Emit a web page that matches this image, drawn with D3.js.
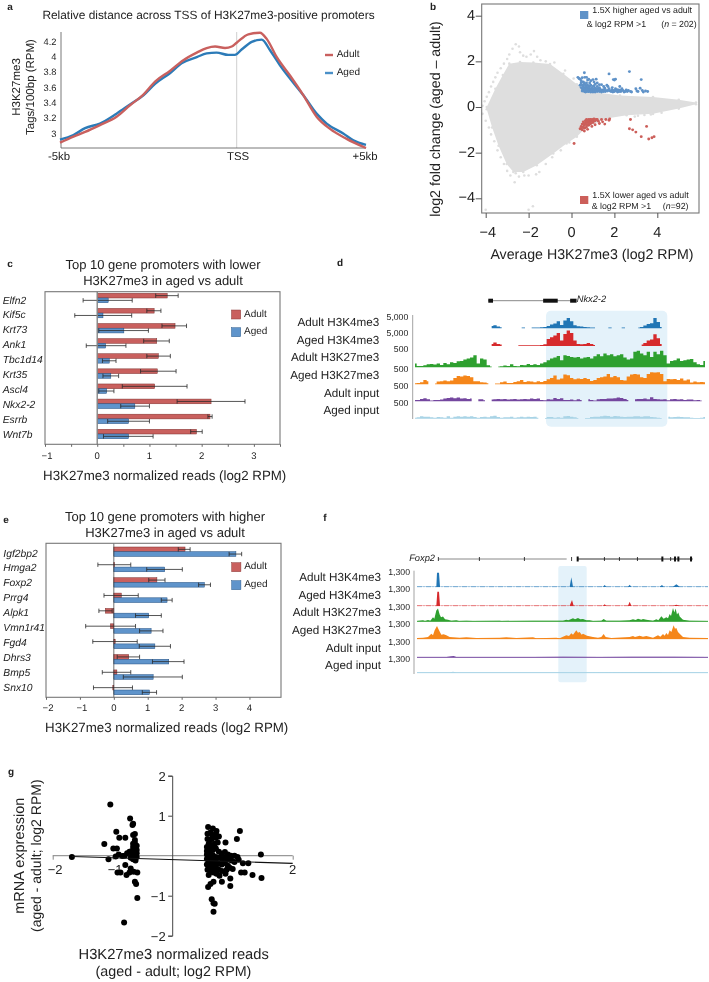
<!DOCTYPE html>
<html><head><meta charset="utf-8">
<script src="https://cdn.jsdelivr.net/npm/d3@7"></script>
<style>
html,body{margin:0;padding:0;background:#fff}
svg{display:block;font-family:"Liberation Sans",Arial,sans-serif;text-rendering:geometricPrecision;filter:blur(.4px)}
text{fill:#222}
</style></head><body>
<svg id="c" width="709" height="982"></svg>
<script>
// ---------- panel a
const aKb   =[-5,-4.62,-4.29,-3.87,-3.40,-3.02,-2.64,-2.31,-1.89,-1.51,-1.13,-0.85,-0.61,-0.33,-0.14,0,0.45,0.90,1.16,1.55,2.06,2.58,3.09,3.61,4.25,5];
const aAdult=[2.88,2.96,3.02,3.11,3.22,3.37,3.51,3.68,3.82,3.96,4.06,4.12,4.14,4.12,4.14,4.19,4.30,4.32,4.24,4.00,3.76,3.50,3.22,3.06,2.93,2.81];
const aKb2  =[-5,-4.62,-4.29,-3.87,-3.40,-3.02,-2.64,-2.31,-1.89,-1.56,-1.13,-0.85,-0.57,-0.24,-0.05,0.19,0.58,0.97,1.29,1.68,2.06,2.58,3.09,3.48,4.12,4.51,5];
const aAged =[2.92,2.98,3.07,3.13,3.26,3.38,3.50,3.65,3.79,3.92,4.00,4.05,4.06,4.03,4.03,4.10,4.20,4.23,4.09,3.89,3.72,3.50,3.26,3.13,3.00,2.91,2.85];
const aTicks=[3,3.2,3.4,3.6,3.8,4,4.2];
// ---------- panel b
const bUpper=[[-3.95,0],[-3.55,.8],[-3.2,1.4],[-2.9,1.9],[-2.4,1.97],[-1.78,1.95],[-1,1.88],[-.38,1.46],[.25,1.0],[1.03,.66],[2.26,.5],[3.8,.44],[5,.32],[5.8,.2]];
const bLower=[[5.8,.12],[5,-.07],[3.8,-.3],[2.57,-.36],[1.64,-.5],[.7,-.87],[.25,-1.3],[-.23,-1.6],[-.85,-2.04],[-1.62,-2.55],[-2.25,-2.85],[-2.71,-2.85],[-3.02,-2.5],[-3.4,-1.7],[-3.7,-.9],[-3.95,-.1]];
const bGrey=[[-4.15,.05],[-4.05,.25],[-3.95,.45],[-3.85,.65],[-3.75,.9],[-3.65,1.1],[-3.55,1.3],[-3.45,1.5],[-3.3,1.7],[-3.15,1.9],[-3,2.1],[-2.9,2.3],[-2.75,2.55],[-2.6,2.75],[-2.45,2.65],[-2.4,2.4],[-2.25,2.25],[-2.1,2.2],[-1.9,2.3],[-1.75,2.45],[-1.6,2.2],[-1.45,2.05],[-1.2,2.0],[-.8,1.95],[-.3,1.6],[.1,1.25],[-4.15,-.3],[-4,-.6],[-3.85,-.9],[-3.75,-1.2],[-3.6,-1.5],[-3.45,-1.9],[-3.3,-2.2],[-3.15,-2.5],[-3,-2.8],[-2.85,-3],[-2.65,-3.3],[-2.6,-2.9],[-2.45,-3.05],[-2.2,-3],[-2,-3],[-1.65,-2.95],[-1.5,-2.85],[-1.2,-2.5],[-.9,-2.2],[-2,-4.5],[-1.8,-4.35],[-4.0,-4.5],[-.5,-1.9],[-.1,-1.55],[2.95,-.42],[3.1,-.38],[3.4,-.35],[3.7,-.33],[4.2,-.25]];
const bHigher=[[.3,1.3],[.35,1.25],[.4,1.22],[.45,1.15],[.5,1.28],[.55,1.1],[.6,1.5],[.62,1.3],[.7,1.3],[.75,1.18],[.8,1.22],[.85,1.05],[.9,1.15],[1.0,1.2],[1.05,1.1],[1.15,1.22],[1.2,1.05],[.45,1.05],[.5,.95],[.55,.9],[.6,1.05],[.65,.98],[.7,.85],[.75,.95],[.8,.88],[.85,.8],[.9,.95],[.95,.85],[1,.78],[1.05,.92],[1.1,.82],[1.15,.72],[1.2,.9],[1.25,.78],[1.3,.85],[1.35,.7],[1.4,.98],[1.45,.75],[1.5,.68],[1.55,.82],[1.6,.72],[.5,.8],[.55,.72],[.6,.68],[.65,.78],[.7,.68],[.75,.72],[.8,.68],[.85,.7],[.9,.66],[.95,.72],[1,.66],[1.05,.7],[1.1,.66],[1.2,.68],[1.3,.68],[1.4,.66],[1.75,1.45],[1.95,1.2],[2.0,1.18],[2.05,1.22],[1.7,.9],[1.75,.8],[1.8,.7],[1.85,.68],[1.9,.85],[1.95,.72],[2,.68],[2.05,.8],[2.1,.7],[2.15,.66],[2.2,.75],[2.25,.9],[2.3,.68],[2.35,.8],[2.4,.72],[2.45,.66],[2.5,.68],[2.55,.75],[2.6,.68],[2.65,.72],[2.7,1.55],[2.75,.68],[2.8,.66],[3.0,.8],[3.05,.7],[3.1,.68],[3.2,.82],[3.25,1.2],[3.3,.72],[3.35,.66],[3.45,.7],[3.55,.68],[1.65,.95],[1.5,.9],[.4,.95],[.45,.85],[.5,.7],[.6,.85],[.7,1.05],[.8,.78],[.9,.78],[1,.9],[1.1,1.0],[1.3,.98],[.65,.66],[.75,.82],[.85,.92],[.55,.8],[.58,.98],[.62,.75],[.68,.9],[.72,.78],[.78,.68],[.82,.84],[.88,.74],[.92,.7],[.98,.8],[1.03,.74],[1.08,.78],[1.12,.7],[1.18,.8],[1.22,.74],[1.28,.72],[1.33,.78],[1.38,.74],[1.48,.7],[1.52,.74],[1.58,.68],[1.68,.7],[1.72,.74],[1.88,.76],[1.93,.66],[2.03,.72],[2.12,.76],[2.22,.68],[2.28,.74]];
const bLowerSet=[[.12,-1.6],[.4,-.95],[.45,-.85],[.5,-.75],[.5,-1.0],[.55,-.65],[.55,-.9],[.6,-.8],[.6,-1.05],[.65,-.6],[.65,-.72],[.7,-.55],[.7,-.88],[.75,-.68],[.75,-.98],[.8,-.55],[.8,-.8],[.85,-.62],[.9,-.55],[.9,-.72],[.95,-.85],[1,-.55],[1,-.68],[1.05,-.6],[1.1,-.78],[1.15,-.55],[1.25,-.62],[1.3,-.72],[1.4,-.55],[1.45,-.65],[1.55,-.75],[1.6,-.55],[1.75,-.58],[1.78,-.52],[.85,-.75],[.95,-.6],[1.05,-.52],[.45,-.95],[.52,-.88],[.58,-.72],[.62,-.92],[.68,-.65],[.72,-.78],[.78,-.6],[.82,-.7],[.88,-.55],[.92,-.62],[.98,-.62],[1.1,-.6],[1.2,-.55],[2.75,-.55],[2.7,-.95],[2.85,-1.0],[3.0,-1.1],[3.25,-1.3],[3.5,-.85],[3.6,-1.4],[3.75,-1.35],[3.85,-1.3]];
const bTicks=[-4,-2,0,2,4];
// ---------- panel c
const cGenes=["Elfn2","Kif5c","Krt73","Ank1","Tbc1d14","Krt35","Ascl4","Nkx2-2","Esrrb","Wnt7b"];
const cAdult=[1.34,1.09,1.49,1.14,1.17,1.15,1.10,2.18,2.16,1.90];
const cAdultLo=[1.12,.95,1.24,.89,.95,.83,.48,1.53,2.12,1.79];
const cAdultHi=[1.55,1.22,1.71,1.38,1.40,1.51,1.72,2.83,2.20,2.01];
const cAged=[.21,.11,.51,.16,.23,.26,.18,.72,.60,.60];
const cAgedLo=[-.27,-.43,.03,-.21,.10,.11,.03,.45,.20,.12];
const cAgedHi=[.67,.66,.98,.55,.36,.41,.32,1.00,1.00,1.07];
// ---------- panel e
const eGenes=["Igf2bp2","Hmga2","Foxp2","Prrg4","Alpk1","Vmn1r41","Fgd4","Dhrs3","Bmp5","Snx10"];
const eAdult=[2.10,.02,1.27,.22,-.25,-.10,.04,.44,.09,-.03];
const eAdultLo=[1.90,-.47,1.03,-.29,-.44,-.83,-.62,.10,-.34,-.60];
const eAdultHi=[2.25,.50,1.51,.72,-.05,.64,.69,.76,.50,.55];
const eAged=[3.60,1.50,2.67,1.57,1.03,1.10,1.21,1.62,1.16,1.05];
const eAgedLo=[3.40,.97,2.50,1.40,.64,.76,.75,1.14,.28,.84];
const eAgedHi=[3.77,2.02,2.85,1.72,1.40,1.45,1.67,2.07,2.02,1.26];
// ---------- panel d tracks (coverage per bin, 50 = full track scale)
const dLabels=["Adult H3K4me3","Aged H3K4me3","Adult H3K27me3","Aged H3K27me3","Adult input","Aged input"];
const dScale=["5,000","5,000","500","500","500","500"];
const dBlue=[0,0,0,0,0,0,0,0,0,0,0,0,0,0,0,0,0,0,0,0,0,0,0,6,8,4,2,0,0,0,0,0,1,1,0,1,1,1,2,3,6,10,13,20,9,22,30,20,8,5,4,3,2,1,1,0,0,0,1,1,0,0,1,1,0,0,0,1,3,7,12,14,30,18,3,0,0,0,0,0,0,0,0,0,0,0,0,0];
const dRed=[0,0,0,0,0,0,0,0,0,0,0,0,0,0,0,0,0,0,0,0,0,0,0,5,9,5,3,0,0,0,0,1,1,1,1,1,1,1,2,4,20,25,30,38,15,35,45,38,15,5,4,5,8,5,2,0,0,0,0,1,0,1,0,1,0,0,0,0,3,8,15,18,34,22,5,0,0,0,0,0,0,0,0,0,0,0,0,0];
const dGreen=[10,3,3,5,8,9,7,10,6,12,8,14,12,17,18,22,25,28,35,10,25,22,5,1,0,1,2,4,3,8,3,2,6,5,9,6,8,6,10,14,20,25,28,33,20,35,33,30,28,30,25,28,30,25,32,38,32,40,35,38,32,35,38,28,22,25,45,48,40,35,45,30,45,38,48,35,10,18,20,25,18,20,22,24,14,8,6,18];
const dOrange=[2,3,5,12,8,0,1,7,8,10,8,10,18,24,22,25,24,20,8,8,5,4,2,0,1,1,5,7,3,3,6,8,12,6,8,7,5,8,6,9,14,18,25,13,16,28,26,18,14,16,15,18,15,9,12,18,20,22,30,20,24,20,12,10,22,28,30,28,20,18,30,35,34,35,30,8,15,14,15,12,16,10,13,4,7,5,6,5];
const dPurple=[3,3,6,8,5,1,3,3,4,7,9,10,8,10,7,8,6,7,0,5,5,2,0,4,5,6,5,6,4,5,6,4,5,6,5,7,6,7,3,2,5,4,9,6,8,3,3,4,2,5,3,0,5,3,1,5,6,6,7,7,8,10,9,6,3,0,5,6,6,7,5,11,6,5,4,5,2,5,6,4,5,3,4,4,2,3,1,0];
const dLight=[2,3,6,5,5,3,2,4,3,2,6,2,5,6,5,6,5,6,4,2,4,5,3,6,8,4,2,3,3,5,2,3,5,3,5,4,5,2,0,1,4,4,2,3,2,6,7,5,3,1,0,1,1,4,5,5,6,8,7,5,7,6,5,4,5,5,6,6,5,6,6,4,3,2,1,0,5,3,4,5,4,3,3,2,1,1,2,4];
const dExons=[[0,.055],[.64,.81],[.955,1.03]];
// ---------- panel f tracks (bin, coverage; 50 = full track scale)
const fLabels=dLabels;
const fScale=["1,300","1,300","1,300","1,300","1,300","1,300"];
const fBlue=[[352,0],[410,0],[412,42],[418,42],[421,0],[810,0],[815,28],[820,0],[910,0],[915,5],[920,0],[985,0],[990,6],[995,0],[1080,0],[1087,5],[1092,0],[1120,0],[1130,7],[1140,0],[1225,0]];
const fRed=[[352,0],[410,0],[413,42],[418,42],[421,0],[810,0],[817,17],[822,0],[910,0],[915,4],[920,0],[985,0],[990,12],[995,0],[1120,0],[1130,3],[1140,0],[1225,0]];
const fGreen=[[352,1],[370,3],[376,1],[385,4],[392,2],[400,12],[404,8],[410,32],[415,38],[420,20],[424,12],[430,14],[436,6],[445,5],[455,2],[470,3],[478,1],[500,2],[520,1],[600,2],[605,1],[700,2],[790,2],[800,5],[806,3],[820,9],[826,6],[835,10],[842,6],[850,7],[860,3],[870,3],[880,1],[905,2],[912,7],[920,2],[960,2],[990,3],[1000,6],[1008,4],[1015,8],[1025,5],[1030,7],[1040,5],[1060,2],[1070,6],[1076,3],[1085,15],[1092,8],[1100,12],[1105,9],[1110,22],[1114,16],[1120,40],[1124,26],[1128,38],[1132,20],[1136,26],[1140,14],[1150,5],[1170,2],[1225,1]];
const fOrange=[[352,2],[370,3],[385,5],[395,15],[400,10],[405,25],[412,38],[418,25],[425,12],[432,13],[440,10],[450,5],[480,3],[500,4],[530,2],[600,3],[620,4],[650,2],[700,4],[710,1],[770,3],[780,1],[800,10],[808,8],[815,16],[820,12],[830,25],[835,18],[840,20],[846,12],[850,15],[862,9],[880,5],[895,3],[905,5],[912,14],[918,5],[935,2],[990,5],[1000,8],[1006,5],[1020,9],[1030,6],[1040,8],[1060,3],[1075,10],[1082,6],[1090,14],[1095,9],[1100,17],[1105,11],[1110,25],[1115,20],[1122,40],[1126,30],[1130,32],[1135,20],[1140,15],[1150,5],[1170,3],[1225,2]];
const fPurple=[[352,1],[440,1],[455,3],[462,4],[470,1],[700,1],[790,2],[900,1],[1000,2],[1120,2],[1225,1]];
const fLight=[[352,1],[450,1],[460,3],[470,1],[800,1],[1075,2],[1090,1],[1225,1]];
const fExons=[815,833,913,958,1012,1087,1112,1125,1135,1173];
const fThickExons=[833,1087,1125,1135,1173];
// ---------- panel g
const gTicksY=[-2,-1,1,2];
const gTicksX=[-2,-1,2];
const gFit=[[-1.68,-.02],[2,-.19]];
const gPoints=[[-1.04,1.28],[-.71,.93],[-.67,.77],[-.66,.8],[-.94,.6],[-.63,.54],[-.66,.52],[-.89,.45],[-.79,.45],[-.63,.39],[-1.14,.29],[-.99,.18],[-.93,.18],[-.66,.3],[-.63,.32],[-.6,.25],[-.66,.22],[-.63,.18],[-.6,.14],[-.68,.12],[-.64,.08],[-.6,.06],[-.72,.1],[-.76,.06],[-.67,.02],[-.63,0],[-.6,-.03],[-.8,0],[-.84,-.01],[-.9,.03],[-.7,-.05],[-.66,-.09],[-.62,-.12],[-.95,-.02],[-1.07,-.09],[-1.68,-.03],[-.79,-.23],[-.92,-.42],[-.87,-.42],[-.77,-.48],[-.7,-.32],[-.65,-.4],[-.59,-.42],[-.72,-.42],[-.63,-.65],[-.61,-.71],[-.59,-1.06],[-.81,-1.67],[.59,.72],[.67,.68],[.73,.62],[1.12,.62],[1.07,.42],[.88,.33],[1.47,.03],[1.48,-.56],[1.33,-.48],[1.26,-.19],[1.2,-.42],[1.14,-.42],[1.17,-.19],[.96,-.76],[.96,-.57],[.82,-.65],[.68,-1.19],[.7,-1.2],[.65,-1.09],[.68,-1.4],[.59,-.78],[.63,-.71],[.68,-.65],[.77,.48],[.72,.45],[.65,.42],[.62,.38],[.6,.3],[.57,.22],[.6,.18],[.65,.25],[.7,.3],[.75,.33],[.57,.12],[.62,.1],[.67,.14],[.72,.18],[.77,.1],[.82,.05],[.87,.09],[.92,.03],[.97,.0],[1.03,.0],[1.08,-.03],[.57,.03],[.62,-.02],[.67,.01],[.72,-.03],[.77,-.05],[.82,-.08],[.87,-.05],[.92,-.1],[.98,-.12],[1.03,-.16],[1.1,-.1],[.57,-.08],[.62,-.12],[.67,-.16],[.72,-.14],[.77,-.2],[.82,-.22],[.87,-.18],[.92,-.25],[.57,-.22],[.62,-.26],[.67,-.3],[.72,-.28],[.77,-.35],[.82,-.38],[.58,-.35],[.63,-.4],[.68,-.42],[.73,-.45],[.78,-.5],[.88,-.45],[.6,-.48],[.58,.42],[.66,.52],[.72,.55],[.58,.55],[.63,.58],[.6,.05],[.65,-.05],[.7,-.1],[.6,-.18],[.65,-.22],[.7,-.22],[.6,-.3],[.65,-.35],[.7,-.37],[.95,-.3],[1.0,-.33],[.9,-.35]];

const svg=d3.select("#c");
const txt=(x,y,s,o={})=>{const t=svg.append("text").attr("x",x).attr("y",y).attr("dominant-baseline","central")
  .attr("font-size",o.size||10).attr("text-anchor",o.anchor||"start").text(s);
  if(o.italic)t.attr("font-style","italic"); if(o.bold)t.attr("font-weight","bold");
  if(o.rot!=null)t.attr("transform",`rotate(${o.rot} ${x} ${y})`); return t;};
const tag=[["a",10,7],["b",433,7],["c",10,264],["d",340,263],["e",6,520],["f",325,518],["g",11,772]];
tag.forEach(d=>txt(d[1],d[2],d[0],{size:10,bold:true,anchor:"middle"}));

// ===== panel a
(function(){
 const x=d3.scaleLinear().domain([-5,0,5]).range([60,236.7,366]);
 const y=d3.scaleLinear().domain([2.81,4.33]).range([148,32]);
 txt(208.5,15,"Relative distance across TSS of H3K27me3-positive promoters",{size:11.9,anchor:"middle"});
 svg.append("line").attr("x1",x(0)).attr("x2",x(0)).attr("y1",32).attr("y2",148).attr("stroke","#cfcfcf").attr("stroke-width",1);
 svg.append("line").attr("x1",61).attr("x2",61).attr("y1",32).attr("y2",148).attr("stroke","#555").attr("stroke-width",.8);
 svg.append("line").attr("x1",61).attr("x2",366).attr("y1",148).attr("y2",148).attr("stroke","#555").attr("stroke-width",.8);
 aTicks.forEach(t=>txt(56.5,y(t),d3.format("")(t),{size:9.3,anchor:"end"}));
 const ln=d3.line().x(d=>x(d[0])).y(d=>y(d[1])).curve(d3.curveMonotoneX);
 svg.append("path").attr("d",ln(aKb2.map((k,i)=>[k,aAged[i]]))).attr("fill","none").attr("stroke","#2c7bb8").attr("stroke-width",2.4);
 svg.append("path").attr("d",ln(aKb.map((k,i)=>[k,aAdult[i]]))).attr("fill","none").attr("stroke","#c9605e").attr("stroke-width",2.4);
 [["-5kb",59],["TSS",238],["+5kb",365]].forEach(d=>txt(d[1],156.5,d[0],{size:11.4,anchor:"middle"}));
 txt(16.7,87,"H3K27me3",{size:11.5,anchor:"middle",rot:-90});
 txt(31,87,"Tags/100bp (RPM)",{size:11.5,anchor:"middle",rot:-90});
 [[55,"#c9605e","Adult"],[73,"#4a90c8","Aged"]].forEach(d=>{
  svg.append("line").attr("x1",325).attr("x2",333).attr("y1",d[0]).attr("y2",d[0]).attr("stroke",d[1]).attr("stroke-width",2.4);
  txt(336.7,d[0]-.7,d[2],{size:10});});
})();

// ===== panel b
(function(){
 const x=d3.scaleLinear().domain([-4,4]).range([485.7,657.3]);
 const y=d3.scaleLinear().domain([-4,4]).range([198.3,15.7]);
 const grey="#dedede";
 const ar=d3.line().x(d=>x(d[0])).y(d=>y(d[1])).curve(d3.curveLinear);
 svg.append("path").attr("d",ar(bUpper.concat(bLower))+"Z").attr("fill",grey);
 const dots=(arr,c,r)=>svg.append("g").selectAll("circle").data(arr).join("circle").attr("cx",d=>x(d[0])).attr("cy",d=>y(d[1])).attr("r",r).attr("fill",c);
 dots(bUpper.concat(bLower),grey,1.3);dots(bGrey,grey,1.3);
 dots(bHigher,"#5f92c8",1.45);dots(bLowerSet,"#cc5f5a",1.45);
 svg.append("rect").attr("x",481.7).attr("y",4).attr("width",217.3).attr("height",209).attr("fill","none").attr("stroke","#777").attr("stroke-width",1.1);
 const ax=svg.append("g").attr("transform","translate(0,213)").call(d3.axisBottom(x).tickValues(bTicks).tickSize(5).tickFormat(d3.format("")));
 ax.select(".domain").remove();ax.selectAll("text").remove();ax.selectAll("line").attr("stroke","#555");
 const ay=svg.append("g").attr("transform","translate(481.7,0)").call(d3.axisLeft(y).tickValues(bTicks).tickSize(6));
 ay.select(".domain").remove();ay.selectAll("text").remove();ay.selectAll("line").attr("stroke","#555");
 bTicks.forEach(t=>{txt(x(t)+(t<0?2:0),232.7,t<0?"\u2212"+(-t):t,{size:14.5,anchor:"middle"});
  txt(475,y(t),t<0?"\u2212"+(-t):t,{size:14.5,anchor:"end"});});
 txt(435.7,119,"log2 fold change (aged \u2013 adult)",{size:14.2,anchor:"middle",rot:-90});
 txt(592,255,"Average H3K27me3 (log2 RPM)",{size:14.2,anchor:"middle"});
 svg.append("rect").attr("x",580).attr("y",11).attr("width",8.3).attr("height",8).attr("fill","#5f92c8");
 svg.append("rect").attr("x",580).attr("y",196).attr("width",8.3).attr("height",8).attr("fill","#cc5f5a");
 txt(592.3,10.3,"1.5X higher aged vs adult",{size:8.8});
 txt(586.7,24,"& log2 RPM >1",{size:8.8});
 const n1=txt(696.7,24,"(",{size:8.8,anchor:"end"});n1.text(null);
 n1.append("tspan").text("(");n1.append("tspan").attr("font-style","italic").text("n");n1.append("tspan").text(" = 202)");
 txt(592.3,195,"1.5X lower aged vs adult",{size:8.8});
 txt(591.7,206,"& log2 RPM >1",{size:8.8});
 const n2=txt(688.5,206,"(",{size:8.8,anchor:"end"});n2.text(null);
 n2.append("tspan").text("(");n2.append("tspan").attr("font-style","italic").text("n");n2.append("tspan").text("=92)");
})();

// ===== bar panels
function bars(o){
 const x=d3.scaleLinear().domain(o.dom).range([o.l,o.r]);
 const band=d3.scalePoint().domain(o.genes).range([o.c0,o.c1]);
 const lab=d3.scalePoint().domain(o.genes).range([o.lab0,o.lab1]);
 const h=o.bh;
 const g=svg.append("g");
 const bar=(vals,off,fill,edge)=>g.append("g").selectAll("rect").data(o.genes).join("rect")
   .attr("x",(d,i)=>Math.min(x(0),x(vals[i]))).attr("width",(d,i)=>Math.abs(x(vals[i])-x(0)))
   .attr("y",d=>band(d)+off).attr("height",h).attr("fill",fill).attr("stroke",edge).attr("stroke-width",.5);
 bar(o.adult,-h,"#c9605e","#7d2f2d");bar(o.aged,0,"#5f94cb","#1f4d80");
 const err=(lo,hi,off)=>o.genes.forEach((d,i)=>{const yy=band(d)+off;
  const e=g.append("g").attr("stroke","#2a2a2a").attr("stroke-width",.8);
  e.append("line").attr("x1",x(lo[i])).attr("x2",x(hi[i])).attr("y1",yy).attr("y2",yy);
  [lo[i],hi[i]].forEach(v=>e.append("line").attr("x1",x(v)).attr("x2",x(v)).attr("y1",yy-2.2).attr("y2",yy+2.2));});
 err(o.adultLo,o.adultHi,-h/2);err(o.agedLo,o.agedHi,h/2);
 svg.append("line").attr("x1",x(0)).attr("x2",x(0)).attr("y1",o.t).attr("y2",o.b).attr("stroke",o.zeroC).attr("stroke-width",o.zeroW);
 svg.append("rect").attr("x",o.l).attr("y",o.t).attr("width",o.r-o.l).attr("height",o.b-o.t).attr("fill","none").attr("stroke","#777").attr("stroke-width",1.1);
 const ax=svg.append("g").attr("transform",`translate(0,${o.b})`).call(d3.axisBottom(x).tickValues(o.ticks).tickSize(2.5));
 ax.select(".domain").remove();ax.selectAll("text").remove();ax.selectAll("line").attr("stroke","#666");
 o.labels.forEach(t=>txt(x(t)+(t<0?2:0),o.tickY,t<0?"\u2212"+(-t):t,{size:9.5,anchor:"middle"}));
 o.genes.forEach(d=>txt(o.labX,lab(d),d,{size:10.3,italic:true}));
 o.title.forEach((s,i)=>txt(o.tx,o.ty[i],s,{size:13,anchor:"middle"}));
 txt(o.xlx,o.xly,"H3K27me3 normalized reads (log2 RPM)",{size:13.3,anchor:"middle"});
 [[o.leg[0],"#c9605e","#8a3b39","Adult"],[o.leg[1],"#5f94cb","#2a5a8c","Aged"]].forEach(d=>{
  svg.append("rect").attr("x",o.legX).attr("y",d[0]).attr("width",9.2).attr("height",9).attr("fill",d[1]).attr("stroke",d[2]).attr("stroke-width",.5);
  txt(o.legX+12.5,d[0]+4,d[3],{size:10});});
}
bars({genes:cGenes,adult:cAdult,adultLo:cAdultLo,adultHi:cAdultHi,aged:cAged,agedLo:cAgedLo,agedHi:cAgedHi,
 dom:[-1,3.5],l:45,r:280,t:291.7,b:444.3,c0:298,c1:434,lab0:301,lab1:435.3,bh:4.7,
 ticks:[-1,-.5,0,.5,1,1.5,2,2.5,3,3.5],labels:[-1,0,1,2,3],tickY:456.7,labX:2.7,
 title:["Top 10 gene promoters with lower","H3K27me3 in aged vs adult"],tx:163,ty:[264.3,280],xlx:164.7,xly:475,
 leg:[310,327.7],legX:231.5,zeroC:"#888",zeroW:1.4});
bars({genes:eGenes,adult:eAdult,adultLo:eAdultLo,adultHi:eAdultHi,aged:eAged,agedLo:eAgedLo,agedHi:eAgedHi,
 dom:[-2,4.93],l:46,r:281,t:543.3,b:697.3,c0:551.7,c1:690,lab0:554,lab1:688,bh:4.7,
 ticks:[-2,-1,0,1,2,3,4],labels:[-2,-1,0,1,2,3,4],tickY:708.3,labX:3.3,
 title:["Top 10 gene promoters with higher","H3K27me3 in aged vs adult"],tx:165,ty:[516.7,532.3],xlx:166.7,xly:727.7,
 leg:[562.7,580.7],legX:231.7,zeroC:"#333",zeroW:.7});

// ===== tracks
const trackCols=["#2176b5","#d62a2c","#2ea02f","#f5861a","#74479f","#a9d4e6"];
const H=d3.scaleLinear().domain([0,50]).range([0,16.7]);
function tracksD(){
 const l=546,r=667.3;
 svg.append("rect").attr("x",l).attr("y",310.7).attr("width",r-l).attr("height",116).attr("rx",5).attr("fill","#e4f2fa");
 const x=d3.scaleLinear().domain([0,87]).range([415,705]);
 const base=[328.3,346,367.3,384.3,401.3,418.7];
 [dBlue,dRed,dGreen,dOrange,dPurple,dLight].forEach((arr,k)=>{
  const a=d3.area().defined(d=>d>0).x((d,i)=>x(i)).y0(base[k]).y1(d=>base[k]-H(d)-.4).curve(d3.curveStep);
  svg.append("path").attr("d",a(arr)).attr("fill",trackCols[k]);
 });
 svg.append("line").attr("x1",412.7).attr("x2",412.7).attr("y1",315).attr("y2",419).attr("stroke","#999").attr("stroke-width",.9);
 const ly=[322.7,340.3,357.7,375.3,393,410.7],ty=[316.7,333.3,349.3,369.3,386,403.3];
 dLabels.forEach((s,i)=>txt(379.3,ly[i],s,{size:11.7,anchor:"end"}));
 dScale.forEach((s,i)=>txt(408.3,ty[i],s,{size:8.7,anchor:"end"}));
 const gx=d3.scaleLinear().domain([0,1]).range([488.3,574]);
 svg.append("line").attr("x1",gx(0)).attr("x2",gx(1)).attr("y1",300.7).attr("y2",300.7).attr("stroke","#888").attr("stroke-width",1);
 dExons.forEach(e=>svg.append("rect").attr("x",gx(e[0])).attr("width",gx(e[1])-gx(e[0])).attr("y",298.7).attr("height",4).attr("fill","#111"));
 txt(576.7,299.3,"Nkx2-2",{size:9.3,italic:true});
}
tracksD();
function tracksF(){
 svg.append("rect").attr("x",558.3).attr("y",566).attr("width",28.4).attr("height",116.3).attr("rx",2).attr("fill","#e4f2fa");
 const x=d3.scaleLinear().domain([352,1225]).range([417,708]);
 const base=[586.7,605.7,621.3,638.7,657.3,672.7];
 [fBlue,fRed,fGreen,fOrange,fPurple,fLight].forEach((arr,k)=>{
  const b=svg.append("line").attr("x1",417).attr("x2",708).attr("y1",base[k]).attr("y2",base[k]).attr("stroke",trackCols[k]).attr("stroke-width",.8);
  if(k<2)b.attr("stroke-dasharray","5 1.5 1 1.5").attr("opacity",.65);
  const a=d3.area().x(d=>x(d[0])).y0(base[k]+.3).y1(d=>base[k]-H(d[1]));
  svg.append("path").attr("d",a(arr)).attr("fill",trackCols[k]);
 });
 svg.append("line").attr("x1",414).attr("x2",414).attr("y1",570.7).attr("y2",674).attr("stroke","#999").attr("stroke-width",.9);
 const ly=[577.3,595.3,612.7,630.3,648,665.7],ty=[572,589.3,606.7,624.3,641.7,659];
 fLabels.forEach((s,i)=>txt(381,ly[i],s,{size:11.7,anchor:"end"}));
 fScale.forEach((s,i)=>txt(410,ty[i],s,{size:8.7,anchor:"end"}));
 const gx=d3.scaleLinear().domain([415,1178]).range([438.3,692.7]);
 svg.append("line").attr("x1",gx(415)).attr("x2",gx(800)).attr("y1",559).attr("y2",559).attr("stroke","#888").attr("stroke-width",1);
 svg.append("line").attr("x1",gx(833)).attr("x2",gx(1178)).attr("y1",559).attr("y2",559).attr("stroke","#333").attr("stroke-width",1);
 [415,538,673].concat(fExons).forEach(e=>{const th=fThickExons.includes(e);
  svg.append("rect").attr("x",gx(e)-(th?1:.4)).attr("width",th?2:.8).attr("y",th?556.5:557).attr("height",th?5:4).attr("fill","#111");});
 txt(435,558,"Foxp2",{size:9.3,italic:true,anchor:"end"});
}
tracksF();

// ===== panel g
(function(){
 const x=d3.scaleLinear().domain([-2,2]).range([52.7,292.7]);
 const y=d3.scaleLinear().domain([-2,2]).range([935.7,775.7]);
 const ax=svg.append("g").attr("transform",`translate(0,${y(0)})`).call(d3.axisBottom(x).tickValues(gTicksX).tickSize(4));
 ax.select(".domain").attr("stroke","#999").attr("stroke-width",1.2).attr("d",`M${x(-2)},0H${x(2)}`);ax.selectAll("text").remove();ax.selectAll("line").attr("stroke","#888");
 const ay=svg.append("g").attr("transform",`translate(${x(0)-.5},0)`).call(d3.axisLeft(y).tickValues(gTicksY).tickSize(4));
 ay.select(".domain").attr("stroke","#444");ay.selectAll("text").remove();ay.selectAll("line").attr("stroke","#444");
 gTicksX.forEach(t=>txt(x(t)+(t<0?2.5:0),869,t<0?"\u2212"+(-t):t,{size:13,anchor:"middle"}));
 gTicksY.forEach(t=>txt(165.7,y(t)+.5,t<0?"\u2212"+(-t):t,{size:13,anchor:"end"}));
 svg.append("g").selectAll("circle").data(gPoints).join("circle").attr("cx",d=>x(d[0])).attr("cy",d=>y(d[1])).attr("r",3).attr("fill","#000");
 svg.append("line").attr("x1",x(gFit[0][0])).attr("y1",y(gFit[0][1])).attr("x2",x(gFit[1][0])).attr("y2",y(gFit[1][1])).attr("stroke","#111").attr("stroke-width",1.2);
 txt(20,855.7,"mRNA expression",{size:14.5,anchor:"middle",rot:-90});
 txt(36,855.7,"(aged - adult; log2 RPM)",{size:14,anchor:"middle",rot:-90});
 txt(173.7,955,"H3K27me3 normalized reads",{size:14.7,anchor:"middle"});
 txt(173.5,972.3,"(aged - adult; log2 RPM)",{size:14.3,anchor:"middle"});
})();
</script></body></html>
